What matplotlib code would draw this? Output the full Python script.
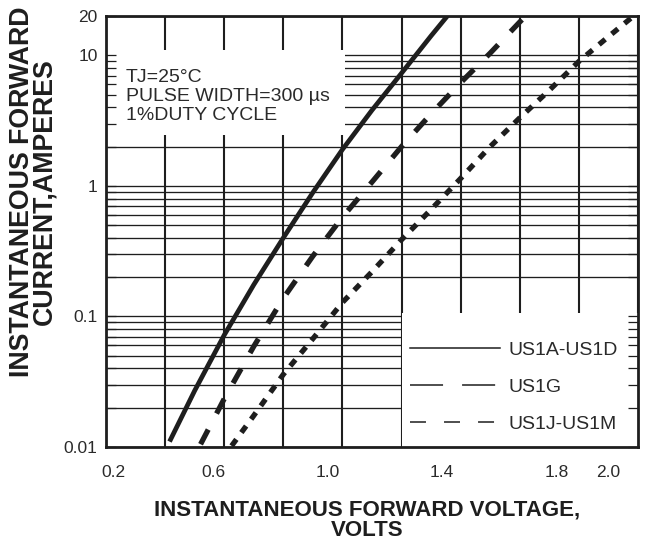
import matplotlib
matplotlib.use("Agg")
import matplotlib.pyplot as plt
from matplotlib.lines import Line2D
from matplotlib.patches import Rectangle
from matplotlib.ticker import FixedLocator, NullFormatter, LogLocator
from matplotlib.transforms import ScaledTranslation

plt.rcParams["font.family"] = ["Liberation Sans", "DejaVu Sans"]
plt.rcParams["lines.scale_dashes"] = False

# Forward characteristic curves (volts, amperes)
v_a_d = [0.415, 0.5, 0.6, 0.7, 0.8, 0.9, 1.0, 1.1, 1.2, 1.3, 1.355]
i_a_d = [0.011, 0.027, 0.072, 0.175, 0.40, 0.89, 1.9, 3.8, 7.3, 14.1, 20.0]

v_g = [0.52, 0.6, 0.7, 0.8, 0.9, 1.0, 1.1, 1.2, 1.3, 1.4, 1.5, 1.6, 1.62]
i_g = [0.0105, 0.0234, 0.059, 0.138, 0.29, 0.576, 1.07, 2.0, 3.56, 6.17, 10.4, 18.0, 20.0]

v_j_m = [0.625, 0.7, 0.8, 0.9, 1.0, 1.1, 1.2, 1.3, 1.4, 1.5, 1.6, 1.7, 1.8, 1.9, 1.985]
i_j_m = [0.0102, 0.0174, 0.036, 0.0675, 0.128, 0.22, 0.387, 0.66, 1.14, 2.0,
         3.32, 5.4, 8.98, 13.9, 20.0]

series_labels = ["US1A-US1D", "US1G", "US1J-US1M"]

x_grid = [0.2, 0.4, 0.6, 0.8, 1.0, 1.2, 1.4, 1.6, 1.8, 2.0]
x_labeled = [0.2, 0.6, 1.0, 1.4, 1.8, 2.0]
x_labels = ["0.2", "0.6", "1.0", "1.4", "1.8", "2.0"]
y_labeled = [0.01, 0.1, 1, 10, 20]
y_labels = ["0.01", "0.1", "1", "10", "20"]

ink = "#1e1e1e"
txt = "#2a2a2a"

fig = plt.figure(figsize=(6.51, 5.43), dpi=100)
rect = [106 / 651, 96 / 543, 532 / 651, 431 / 543]

# base axes: grid, blank-out boxes and curves
ax = fig.add_axes(rect)
ax.set_yscale("log")
ax.set_xlim(0.2, 2.0)
ax.set_ylim(0.01, 20)
ax.set_xticks(x_grid)
ax.yaxis.set_major_locator(FixedLocator([0.01, 0.1, 1, 10]))
ax.yaxis.set_minor_locator(LogLocator(subs=range(2, 10)))
ax.set_axisbelow(True)
ax.grid(axis="x", color=ink, lw=1.5)
ax.grid(axis="y", which="both", color=ink, lw=0.95)
ax.tick_params(which="both", length=0, labelbottom=False, labelleft=False)
for s in ax.spines.values():
    s.set_visible(False)

# white areas behind the conditions note and the legend
ax.add_patch(Rectangle((0.2, 2.45), 0.81, 10.9 - 2.45, facecolor="white",
                       edgecolor="none", zorder=1))
ax.add_patch(Rectangle((1.2, 0.01), 0.8, 0.106 - 0.01, facecolor="white",
                       edgecolor="none", zorder=1))

ax.plot(v_a_d, i_a_d, color=ink, lw=3.4, solid_capstyle="butt",
        solid_joinstyle="round", zorder=3)
ax.plot(v_g, i_g, color=ink, lw=3.8, linestyle=(0, (11.9, 13.0)),
        dash_capstyle="butt", zorder=3)
ax.plot(v_j_m, i_j_m, color=ink, lw=3.8, linestyle=(0, (5.8, 6.1)),
        dash_capstyle="butt", zorder=3)

ax.text(0.0376, 0.876, "TJ=25°C\nPULSE WIDTH=300 µs\n1%DUTY CYCLE",
        transform=ax.transAxes, ha="left", va="top", fontsize=14,
        color=txt, linespacing=1.12, zorder=4)

handles = [
    Line2D([], [], color=ink, lw=1.1),
    Line2D([], [], color=ink, lw=1.1, linestyle=(0, (23.8, 13.7))),
    Line2D([], [], color=ink, lw=1.1, linestyle=(0, (11.5, 13.0))),
]
leg = ax.legend(handles, series_labels, loc="upper left",
                bbox_to_anchor=(0.5714, 0.246), frameon=False, fontsize=14,
                borderaxespad=0, borderpad=0, handlelength=4.64,
                handletextpad=0.41, labelspacing=1.0)
for t in leg.get_texts():
    t.set_color(txt)

# overlay axes: frame, inward ticks and tick labels
ax2 = fig.add_axes(rect)
ax2.patch.set_visible(False)
ax2.set_yscale("log")
ax2.set_xlim(0.2, 2.0)
ax2.set_ylim(0.01, 20)
ax2.set_xticks(x_labeled, x_labels)
ax2.yaxis.set_major_locator(FixedLocator(y_labeled))
ax2.set_yticklabels(y_labels)
ax2.yaxis.set_minor_locator(LogLocator(subs=range(2, 10)))
ax2.yaxis.set_minor_formatter(NullFormatter())
ax2.tick_params(axis="x", length=0, pad=13, labelsize=12.5, labelcolor=txt)
ax2.tick_params(axis="y", which="both", direction="in", left=True, right=True,
                length=7, width=0.9, color=ink, pad=6, labelsize=12.5,
                labelcolor=txt)
for s in ax2.spines.values():
    s.set_linewidth(2.0)
    s.set_color(ink)

# nudge the voltage labels the way they are set on the printed sheet
nudges = [7, -11, -15, -19, -22, -30]
for lbl, dx in zip(ax2.get_xticklabels(), nudges):
    lbl.set_transform(lbl.get_transform() + ScaledTranslation(dx / 100, 0, fig.dpi_scale_trans))

fig.text(367.5 / 651, 1 - 520 / 543, "INSTANTANEOUS FORWARD VOLTAGE,\nVOLTS",
         ha="center", va="center", fontsize=16, fontweight="bold",
         color=ink, linespacing=0.95)
fig.text(33 / 651, 1 - 192 / 543, "INSTANTANEOUS FORWARD\nCURRENT,AMPERES",
         ha="center", va="center", rotation=90, fontsize=19.3,
         fontweight="bold", color=ink, linespacing=0.8)

fig.savefig("out.png", dpi=100)
